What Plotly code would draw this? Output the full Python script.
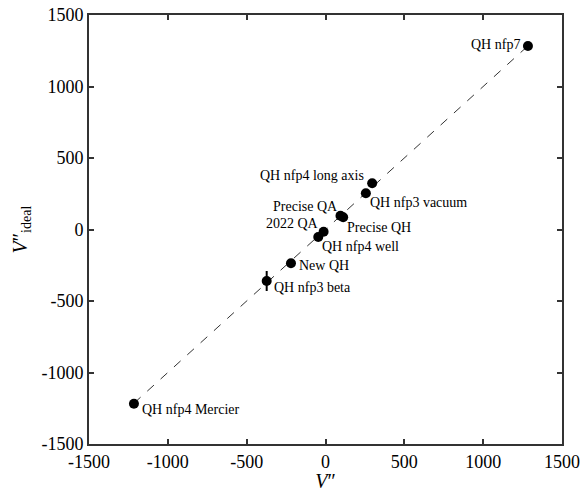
import plotly.graph_objects as go

names = ["QH nfp7", "QH nfp4 Mercier", "QH nfp4 long axis", "QH nfp3 vacuum",
         "Precise QA", "Precise QH", "2022 QA", "QH nfp4 well", "New QH", "QH nfp3 beta"]
v_pp = [1284, -1215, 296, 256, 95, 112, -46, -12, -219, -373]
v_ideal = [1283, -1218, 323, 253, 96, 86, -52, -16, -236, -360]
err_ideal = [0, 0, 0, 0, 0, 0, 0, 0, 0, 70]

tick_vals = [-1500, -1000, -500, 0, 500, 1000, 1500]
tick_text = ["-1500", "-1000", "-500", "0", "500", "1000", "1500"]

# label placement: (xanchor, yanchor, xshift, yshift)
label_pos = {
    "QH nfp7": ("right", "middle", -6, 2),
    "QH nfp4 Mercier": ("left", "top", 6, 4),
    "QH nfp4 long axis": ("right", "bottom", -6, -2),
    "QH nfp3 vacuum": ("left", "top", 2, 0),
    "Precise QA": ("right", "bottom", 0, 0),
    "Precise QH": ("left", "top", 2, -1),
    "2022 QA": ("right", "bottom", 3, 4),
    "QH nfp4 well": ("left", "top", -4, -5),
    "New QH": ("left", "middle", 6, -2),
    "QH nfp3 beta": ("left", "top", 5, 3),
}

lo = min(v_pp)
hi = max(v_pp)

fig = go.Figure()
fig.add_trace(go.Scatter(x=[lo, hi], y=[lo, hi], mode="lines",
                         line=dict(color="#333333", width=1, dash="dash"),
                         hoverinfo="skip", showlegend=False))
fig.add_trace(go.Scatter(x=v_pp, y=v_ideal, mode="markers",
                         marker=dict(color="black", size=10),
                         error_y=dict(type="data", array=err_ideal, color="black",
                                      thickness=2, width=0),
                         showlegend=False))

font_fam = "Liberation Serif, serif"
for n, x, y in zip(names, v_pp, v_ideal):
    xa, ya, xs, ys = label_pos[n]
    fig.add_annotation(x=x, y=y, text=n, showarrow=False, xanchor=xa, yanchor=ya,
                       xshift=xs, yshift=ys,
                       font=dict(family=font_fam, size=14, color="black"))

# y-axis title as a rotated annotation
fig.add_annotation(xref="paper", yref="paper", x=0, y=0.5, xshift=-68,
                   text="<i>V</i>\u2033<sub>ideal</sub>", textangle=-90,
                   showarrow=False, xanchor="center", yanchor="middle",
                   font=dict(family=font_fam, size=20, color="black"))

axis_common = dict(range=[-1500, 1500], tickvals=tick_vals, ticktext=tick_text,
                   ticks="inside", ticklen=5, tickwidth=1.5, tickcolor="#333333",
                   showline=True, linecolor="#333333", linewidth=2, mirror="ticks",
                   showgrid=False, zeroline=False, automargin=False,
                   tickfont=dict(family=font_fam, size=18, color="black"))

fig.update_layout(
    width=583, height=492,
    margin=dict(l=89, r=21, t=15, b=48, autoexpand=False),
    plot_bgcolor="white", paper_bgcolor="white",
    xaxis=dict(**axis_common,
               title=dict(text="<i>V</i>\u2033", standoff=0,
                          font=dict(family=font_fam, size=20, color="black"))),
    yaxis=dict(**axis_common),
)

fig.write_html("out.html", config={"displayModeBar": False},
               post_script="document.body.style.margin='0';")
